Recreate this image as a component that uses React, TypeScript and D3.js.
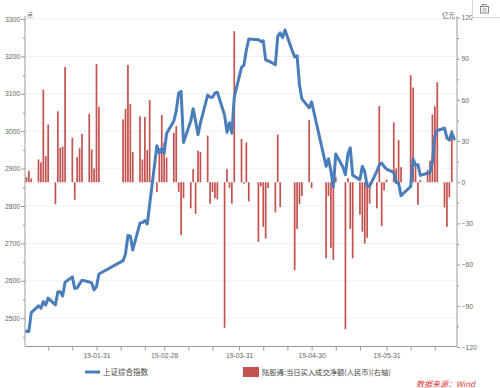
import React, { useEffect, useRef } from 'react';
import * as d3 from 'd3';

// trading days, 2019 H1 (MM-DD)
const tradeDates = [
  '01-02', '01-03', '01-04', '01-07', '01-08', '01-09', '01-10', '01-11', '01-14', '01-15', '01-16',
  '01-17', '01-18', '01-21', '01-22', '01-23', '01-24', '01-25', '01-28', '01-29', '01-30', '01-31',
  '02-01', '02-11', '02-12', '02-13', '02-14', '02-15', '02-18', '02-19', '02-20', '02-21', '02-22',
  '02-25', '02-26', '02-27', '02-28',
  '03-01', '03-04', '03-05', '03-06', '03-07', '03-08', '03-11', '03-12', '03-13', '03-14', '03-15',
  '03-18', '03-19', '03-20', '03-21', '03-22', '03-25', '03-26', '03-27', '03-28', '03-29',
  '04-01', '04-02', '04-03', '04-04', '04-08', '04-09', '04-10', '04-11', '04-12', '04-15', '04-16',
  '04-17', '04-18', '04-19', '04-22', '04-23', '04-24', '04-25', '04-26', '04-29', '04-30',
  '05-06', '05-07', '05-08', '05-09', '05-10', '05-13', '05-14', '05-15', '05-16', '05-17', '05-20',
  '05-21', '05-22', '05-23', '05-24', '05-27', '05-28', '05-29', '05-30', '05-31',
  '06-03', '06-04', '06-05', '06-06', '06-10', '06-11', '06-12', '06-13', '06-14', '06-17', '06-18',
  '06-19', '06-20', '06-21', '06-24', '06-25', '06-26', '06-27', '06-28',
];

// 上证综合指数 (left axis)
const sseIndex = [
  2465.3, 2464.4, 2514.9, 2533.1, 2526.5, 2544.3, 2535.1, 2553.8, 2535.8, 2570.3, 2570.4,
  2559.6, 2596.0, 2610.5, 2579.7, 2581.0, 2591.7, 2601.7, 2597.0, 2594.3, 2575.6, 2584.6,
  2618.2, 2653.9, 2671.9, 2721.1, 2719.7, 2682.4, 2754.4, 2755.6, 2761.2, 2751.8, 2804.2,
  2961.3, 2941.5, 2953.8, 2941.0,
  2994.0, 3027.6, 3054.3, 3102.1, 3106.4, 2969.9, 3027.0, 3060.3, 3027.0, 2990.7, 3021.8,
  3096.4, 3091.0, 3090.6, 3101.5, 3104.2, 3043.0, 2997.1, 3022.7, 2994.9, 3090.8,
  3170.4, 3176.8, 3216.3, 3246.6, 3244.8, 3239.7, 3241.9, 3190.0, 3188.6, 3177.8, 3253.6,
  3263.1, 3250.2, 3270.8, 3215.0, 3198.6, 3201.6, 3123.8, 3086.4, 3062.5, 3078.3,
  2906.5, 2926.4, 2893.8, 2851.0, 2939.2, 2903.7, 2883.6, 2938.7, 2955.7, 2882.3, 2870.6,
  2906.0, 2891.7, 2852.5, 2853.0, 2892.4, 2909.9, 2914.7, 2905.8, 2898.7,
  2890.1, 2862.3, 2861.4, 2827.8, 2852.1, 2925.7, 2909.4, 2910.7, 2882.0, 2887.6, 2890.2,
  2917.8, 2987.1, 3002.0, 3008.2, 2982.1, 2976.3, 2996.8, 2978.9,
];

// 陆股通:当日买入成交净额 (亿元, right axis), null = no northbound trading
const northboundFlow = [
  3.8, 8.4, 2.8, 16.6, 14.5, 67.5, 19, 42, -16, 51.7, 25.2,
  26, 84, 32.5, -12.8, 18.3, 24.8, 35.2, 49.8, 24, 10, 86,
  55, 45.8, 53.5, 85.5, 57, 22, 48, 16.6, 47.5, 23.4, 60,
  -7, 24.6, 49, 28.6,
  18, 36, 41, -7, -38.5, -11.6, -19, 9.6, -23, 23, 22,
  34, -15.6, -7, -11.6, -12.5, -106, 9.6, -4, -15.6, 110,
  31.5, -1, 29, -14, -43.4, -3, -32.5, -41, -4.3, -22, 34.7,
  -18, null, null, null, -64, -34, -16, -10, 45.5, -4.3,
  -55.4, -10, -48, -56.5, 4, null, -107, 3, -34, -55.4, -23.6,
  -36, -44.6, -40.5, -15.6, -19, 55.4, -32, -6, 2,
  43.6, 10, 30.6, 11, 78, 69, 12, -16.4, 1.5, 9, 15.7,
  49.4, 55.4, 72.8, -18.3, -32.5, -11, 37.8, null,
];

const leftTicks = [2500, 2600, 2700, 2800, 2900, 3000, 3100, 3200, 3300];
const leftMinor = [2450, 2550, 2650, 2750, 2850, 2950, 3050, 3150, 3250];
const rightTicks = [-120, -90, -60, -30, 0, 30, 60, 90, 120];
const rightMinor = [-105, -75, -45, -15, 15, 45, 75, 105];
const xTicks = [
  '01-11', '01-21', '01-31', '02-10', '02-20', '02-28', '03-10', '03-20', '03-31',
  '04-10', '04-20', '04-30', '05-10', '05-20', '05-31', '06-10', '06-20',
];
const xLabels = ['01-31', '02-28', '03-31', '04-30', '05-31'];

const W = 500;
const H = 388;
const blue = '#4a7ebb';
const red = '#c4524f';
const axisColor = '#9a9a9a';
const tickFont = '"Liberation Sans", Arial, sans-serif';
const cjkFont = '"Noto Sans CJK SC", sans-serif';

const App = () => {
  const ref = useRef<SVGSVGElement>(null);

  useEffect(() => {
    const svg = d3.select(ref.current);
    svg.selectAll('*').remove();

    const parse = d3.timeParse('%Y-%m-%d');
    const toDate = (s: string) => parse('2019-' + s) as Date;
    const dates = tradeDates.map(toDate);

    const left = 25, right = 457, top = 16, bottom = 346.5;

    const x = d3.scaleTime()
      .domain([new Date(2019, 0, 1), new Date(2019, 5, 29)])
      .range([24, 456.6]);
    const yL = d3.scaleLinear().domain([2500, 3300]).range([318.2, 19]);
    const yR = d3.scaleLinear().domain([-120, 120]).range([347, 17.5]);

    // faint gridlines
    svg.append('g')
      .selectAll('line')
      .data(leftTicks)
      .enter().append('line')
      .attr('x1', left).attr('x2', right)
      .attr('y1', d => yL(d)).attr('y2', d => yL(d))
      .style('stroke', '#f0f0f0')
      .style('stroke-width', 1);

    // bars
    const barData = dates
      .map((d, i) => ({ date: d, v: northboundFlow[i] }))
      .filter(d => d.v !== null) as { date: Date; v: number }[];

    svg.append('g')
      .selectAll('rect')
      .data(barData)
      .enter().append('rect')
      .attr('x', d => x(d.date) - 0.85)
      .attr('width', 1.7)
      .attr('y', d => yR(Math.max(0, d.v)))
      .attr('height', d => Math.abs(yR(d.v) - yR(0)))
      .style('fill', red);

    // index line
    const line = d3.line<number>()
      .x((_, i) => x(dates[i]))
      .y(d => yL(d));

    svg.append('path')
      .datum(sseIndex)
      .attr('d', line)
      .style('fill', 'none')
      .style('stroke', blue)
      .style('stroke-width', 3)
      .style('stroke-linejoin', 'round')
      .style('stroke-linecap', 'round');

    const styleAxis = (g: any) => {
      g.select('.domain').remove();
      g.selectAll('line').style('stroke', axisColor);
      g.selectAll('text')
        .style('font-family', tickFont)
        .style('font-size', '6.8px')
        .style('fill', '#666');
    };

    // left axis
    svg.append('g')
      .attr('transform', `translate(${left},0)`)
      .call(d3.axisLeft(yL).tickValues(leftTicks).tickSize(4).tickSizeOuter(0).tickPadding(1).tickFormat(d3.format('d')))
      .call(styleAxis);
    svg.append('g')
      .attr('transform', `translate(${left},0)`)
      .call(d3.axisLeft(yL).tickValues(leftMinor).tickSize(2).tickSizeOuter(0).tickFormat(() => ''))
      .call(styleAxis);

    // right axis
    svg.append('g')
      .attr('transform', `translate(${right},0)`)
      .call(d3.axisRight(yR).tickValues(rightTicks).tickSize(3).tickSizeOuter(0).tickPadding(1.5).tickFormat(d3.format('d')))
      .call(styleAxis);
    svg.append('g')
      .attr('transform', `translate(${right},0)`)
      .call(d3.axisRight(yR).tickValues(rightMinor).tickSize(2).tickSizeOuter(0).tickFormat(() => ''))
      .call(styleAxis);

    // bottom axis
    const labelSet = new Set(xLabels);
    svg.append('g')
      .attr('transform', `translate(0,${bottom})`)
      .call(d3.axisBottom(x)
        .tickValues(xTicks.map(toDate))
        .tickSize(4)
        .tickSizeOuter(0)
        .tickPadding(3)
        .tickFormat((d: any) => {
          const s = d3.timeFormat('%m-%d')(d);
          return labelSet.has(s) ? '19-' + s : '';
        }))
      .call(styleAxis);

    // axis lines
    const axisLines = [
      [left, top, left, bottom],
      [right, top, right, bottom],
      [left, bottom, right, bottom],
    ];
    svg.append('g')
      .selectAll('line')
      .data(axisLines)
      .enter().append('line')
      .attr('x1', d => d[0]).attr('y1', d => d[1])
      .attr('x2', d => d[2]).attr('y2', d => d[3])
      .style('stroke', axisColor)
      .style('stroke-width', 1);

    // units
    svg.append('text')
      .attr('x', left + 2).attr('y', 17)
      .text('点')
      .style('font-family', cjkFont).style('font-size', '6px').style('fill', '#666');
    svg.append('text')
      .attr('x', right - 2).attr('y', 18)
      .attr('text-anchor', 'end')
      .text('亿元')
      .style('font-family', cjkFont).style('font-size', '6.5px').style('fill', '#666');

    // legend
    svg.append('line')
      .attr('x1', 85).attr('x2', 100).attr('y1', 372).attr('y2', 372)
      .style('stroke', blue).style('stroke-width', 3);
    svg.append('text')
      .attr('x', 103).attr('y', 374.8)
      .text('上证综合指数')
      .style('font-family', cjkFont).style('font-size', '7.5px').style('fill', '#444');
    svg.append('rect')
      .attr('x', 243).attr('y', 367).attr('width', 16).attr('height', 10)
      .style('fill', red);
    svg.append('text')
      .attr('x', 262).attr('y', 374.8)
      .text('陆股通:当日买入成交净额(人民币)(右轴)')
      .style('font-family', cjkFont).style('font-size', '7.3px').style('fill', '#444');

    // source
    svg.append('text')
      .attr('x', 416).attr('y', 386.5)
      .text('数据来源：Wind')
      .style('font-family', cjkFont).style('font-size', '8px')
      .style('font-style', 'italic').style('fill', '#d9383a');

    // toolbox box + save icon
    svg.append('path')
      .attr('d', 'M472.5,0 V17.5 H500')
      .style('fill', 'none').style('stroke', '#d8d8d8');
    svg.append('rect')
      .attr('x', 480.5).attr('y', 6.5).attr('width', 8).attr('height', 6.5)
      .style('fill', 'none').style('stroke', '#888').style('stroke-width', 1);
    svg.append('rect')
      .attr('x', 482.5).attr('y', 4.5).attr('width', 3.5).attr('height', 2)
      .style('fill', 'none').style('stroke', '#888').style('stroke-width', 1);
    svg.append('circle')
      .attr('cx', 484.5).attr('cy', 9.8).attr('r', 1.6)
      .style('fill', 'none').style('stroke', '#888').style('stroke-width', 0.8);
  }, []);

  return (
    <svg
      ref={ref}
      width={W}
      height={H}
      style={{ position: 'absolute', left: 0, top: 0, background: '#fff' }}
    />
  );
};

export default App;
